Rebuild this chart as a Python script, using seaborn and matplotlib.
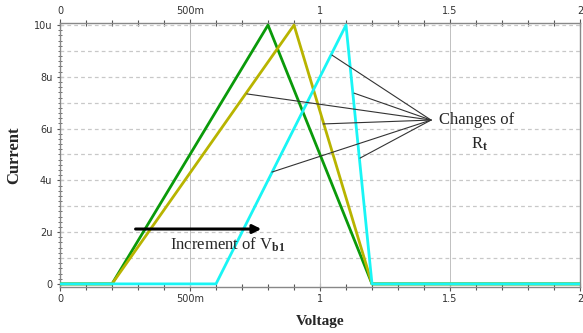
import matplotlib
matplotlib.use("Agg")
import matplotlib.pyplot as plt
import seaborn as sns
import pandas as pd
import numpy as np
from matplotlib.ticker import MultipleLocator

# Data (voltage in V, current in uA)
green_v = [0.0, 0.2, 0.8, 1.2, 2.0]
green_i = [0.0, 0.0, 10.0, 0.0, 0.0]
olive_v = [0.0, 0.2, 0.9, 1.2, 2.0]
olive_i = [0.0, 0.0, 10.0, 0.0, 0.0]
cyan_v = [0.0, 0.6, 1.1, 1.2, 2.0]
cyan_i = [0.0, 0.0, 10.0, 0.0, 0.0]

x_ticks = [0, 0.5, 1, 1.5, 2]
x_labels = ["0", "500m", "1", "1.5", "2"]
y_ticks = [0, 2, 4, 6, 8, 10]
y_labels = ["0", "2u", "4u", "6u", "8u", "10u"]

# pointer lines for "Changes of R_t"
focus = (1.427, 6.33)
ptr_x = [1.046, 1.131, 0.719, 1.012, 1.154, 0.815]
ptr_y = [8.84, 7.37, 7.34, 6.18, 4.86, 4.32]

sns.set_style("white")
plt.rcParams["mathtext.fontset"] = "custom"
plt.rcParams["mathtext.rm"] = "Liberation Serif"
plt.rcParams["mathtext.bf"] = "Liberation Serif:bold"
plt.rcParams["mathtext.it"] = "Liberation Serif:italic"

fig = plt.figure(figsize=(5.83, 3.33), dpi=100)
ax = fig.add_axes([60/583, 46/333, 520/583, 264/333])

df = pd.concat([
    pd.DataFrame({"Voltage": green_v, "Current": green_i, "s": "g"}),
    pd.DataFrame({"Voltage": olive_v, "Current": olive_i, "s": "o"}),
    pd.DataFrame({"Voltage": cyan_v, "Current": cyan_i, "s": "c"}),
])
palette = {"g": "#0a9a0a", "o": "#b8b400", "c": "#19f5f5"}
sns.lineplot(data=df, x="Voltage", y="Current", hue="s", palette=palette,
             sort=False, estimator=None, lw=2.0, legend=False, ax=ax, zorder=3)

ax.set_xlim(0, 2)
ax.set_ylim(-0.12, 10.08)

# grid
for yv in range(1, 11):
    ax.axhline(yv, color="#c8c8c8", lw=0.9, ls=(0, (3, 2.5)), zorder=1)
for xv in [0.5, 1.0, 1.5]:
    ax.axvline(xv, color="#c0c0c0", lw=0.7, zorder=1)

ax.set_xticks(x_ticks)
ax.set_xticklabels(x_labels)
ax.set_yticks(y_ticks)
ax.set_yticklabels(y_labels)
ax.xaxis.set_minor_locator(MultipleLocator(0.1))
ax.yaxis.set_minor_locator(MultipleLocator(0.2))
ax.tick_params(axis="x", which="both", top=True, labeltop=True, bottom=True,
               direction="inout", colors="#555555", labelcolor="#333333",
               labelsize=7, pad=2)
ax.tick_params(axis="x", which="major", length=6, width=0.8)
ax.tick_params(axis="x", which="minor", length=4, width=0.8)
ax.tick_params(axis="y", which="both", left=True, direction="inout",
               colors="#555555", labelcolor="#333333", labelsize=7, pad=3)
ax.tick_params(axis="y", which="major", length=5, width=0.8)
ax.tick_params(axis="y", which="minor", length=3, width=0.6)
for sp in ax.spines.values():
    sp.set_color("#888888")
    sp.set_linewidth(1.0)

serif = ["Liberation Serif", "DejaVu Serif"]
ax.set_xlabel("Voltage", family=serif, fontweight="bold", fontsize=11, labelpad=8)
ax.set_ylabel("Current", family=serif, fontweight="bold", fontsize=12)
ax.yaxis.set_label_coords(-0.072, 0.5)

# pointer lines
for px, py in zip(ptr_x, ptr_y):
    ax.plot([px, focus[0]], [py, focus[1]], color="#333333", lw=0.8, zorder=4)
ax.text(focus[0] + 0.03, focus[1], "Changes of", family=serif, fontsize=12,
        ha="left", va="center")
ax.text(1.615, 5.4, r"R$_\mathbf{t}$", family=serif, fontsize=12,
        ha="center", va="center")

# increment arrow
ax.annotate("", xy=(0.785, 2.12), xytext=(0.28, 2.12),
            arrowprops=dict(arrowstyle="-|>,head_length=0.5,head_width=0.25",
                            lw=2.2, color="black"), zorder=5)
ax.text(0.425, 1.5, r"Increment of V$_\mathbf{b1}$", family=serif, fontsize=12,
        ha="left", va="center")

fig.savefig("out.png", dpi=100)
